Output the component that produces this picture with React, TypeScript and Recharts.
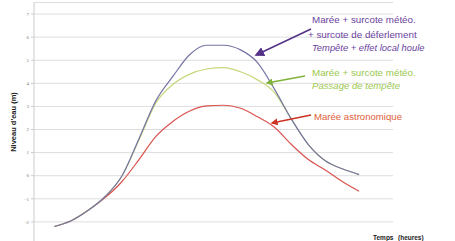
import React from "react";
import { LineChart, Line, XAxis, YAxis, CartesianGrid } from "recharts";

// heures (pas horaire)
const hours = [0, 1, 2, 3, 4, 5, 6, 7, 8, 9, 10, 11, 12, 13, 14, 15, 16, 17, 18];

// niveau d'eau (m)
const astro = [-2.2, -1.95, -1.5, -0.95, -0.25, 0.7, 1.7, 2.35, 2.8, 3.02, 3.05, 2.92, 2.55, 2.1, 1.35, 0.7, 0.25, -0.25, -0.67];
const passage = [-2.2, -1.95, -1.5, -0.9, 0.0, 1.55, 3.15, 3.95, 4.4, 4.62, 4.68, 4.5, 4.15, 3.6, 2.45, 1.35, 0.65, 0.3, 0.05];
const deferlement = [-2.2, -1.95, -1.5, -0.9, 0.0, 1.6, 3.25, 4.3, 5.25, 5.65, 5.65, 5.45, 4.9, 3.75, 2.45, 1.35, 0.65, 0.3, 0.05];

const yTicks = [-2, -1, 0, 1, 2, 3, 4, 5, 6, 7];

const data = hours.map((h, i) => ({
  h,
  astro: astro[i],
  passage: passage[i],
  deferlement: deferlement[i],
}));

const PURPLE = "#6b3fa0";
const GREEN = "#9cc84e";
const RED = "#e0603a";

function Annotations() {
  return (
    <svg
      width={455}
      height={241}
      style={{ position: "absolute", left: 0, top: 0, pointerEvents: "none" }}
    >
      <defs>
        <marker id="ah-p" markerWidth="6" markerHeight="6" refX="5" refY="3" orient="auto">
          <path d="M0,0 L6,3 L0,6 z" fill="#553388" />
        </marker>
        <marker id="ah-g" markerWidth="5" markerHeight="5" refX="4" refY="2.5" orient="auto">
          <path d="M0,0 L5,2.5 L0,5 z" fill="#7fb23a" />
        </marker>
        <marker id="ah-r" markerWidth="5" markerHeight="5" refX="4" refY="2.5" orient="auto">
          <path d="M0,0 L5,2.5 L0,5 z" fill="#cc3322" />
        </marker>
      </defs>
      <line x1={311} y1={29} x2={256} y2={55} stroke="#553388" strokeWidth={1.6} markerEnd="url(#ah-p)" />
      <line x1={305} y1={76} x2={267} y2={83} stroke="#7fb23a" strokeWidth={1.4} markerEnd="url(#ah-g)" />
      <line x1={311} y1={115} x2={272} y2={123} stroke="#cc3322" strokeWidth={1.4} markerEnd="url(#ah-r)" />

      <g fontFamily="Arial, 'Liberation Sans', sans-serif">
        <text x={312} y={23} fontSize={9.8} fill={PURPLE}>Marée + surcote météo.</text>
        <text x={308} y={38} fontSize={9.8} fill={PURPLE}>+ surcote de déferlement</text>
        <text x={312} y={51} fontSize={9.4} fontStyle="italic" fill={PURPLE}>Tempête + effet local houle</text>
        <text x={312} y={76} fontSize={9.8} fill={GREEN}>Marée + surcote météo.</text>
        <text x={312} y={89} fontSize={9.6} fontStyle="italic" fill={GREEN}>Passage de tempête</text>
        <text x={314} y={120} fontSize={9.6} fill={RED}>Marée astronomique</text>
        <text x={373} y={240} fontSize={6.5} fontWeight="bold" fill="#222">Temps</text>
        <text x={398} y={240} fontSize={6.5} fontWeight="bold" fill="#222">(heures)</text>
        <text
          x={16}
          y={122}
          fontSize={7.5}
          fontWeight="bold"
          fill="#222"
          textAnchor="middle"
          transform="rotate(-90 16 122)"
        >
          Niveau d'eau (m)
        </text>
      </g>
    </svg>
  );
}

export default function App() {
  return (
    <div
      style={{
        position: "absolute",
        left: 0,
        top: 0,
        width: 455,
        height: 241,
        overflow: "hidden",
        background: "#fff",
      }}
    >
      <LineChart
        width={455}
        height={250}
        data={data}
        margin={{ top: 2.5, right: 62, bottom: 5, left: 0 }}
      >
        <CartesianGrid vertical={false} stroke="#dedede" />
        <XAxis dataKey="h" type="number" domain={[-1.2, 20]} hide />
        <YAxis
          width={34}
          domain={[-3, 7.5]}
          ticks={yTicks}
          tick={{ fontSize: 5, fill: "#777" }}
          tickSize={3}
          tickLine={{ stroke: "#ccc" }}
          axisLine={{ stroke: "#ccc" }}
        />
        <Line
          type="monotone"
          dataKey="astro"
          stroke="#d9534f"
          strokeWidth={1.2}
          dot={false}
          isAnimationActive={false}
        />
        <Line
          type="monotone"
          dataKey="passage"
          stroke="#c4d97a"
          strokeWidth={1.2}
          dot={false}
          isAnimationActive={false}
        />
        <Line
          type="monotone"
          dataKey="deferlement"
          stroke="#7474a4"
          strokeWidth={1.2}
          dot={false}
          isAnimationActive={false}
        />
      </LineChart>
      <Annotations />
    </div>
  );
}
